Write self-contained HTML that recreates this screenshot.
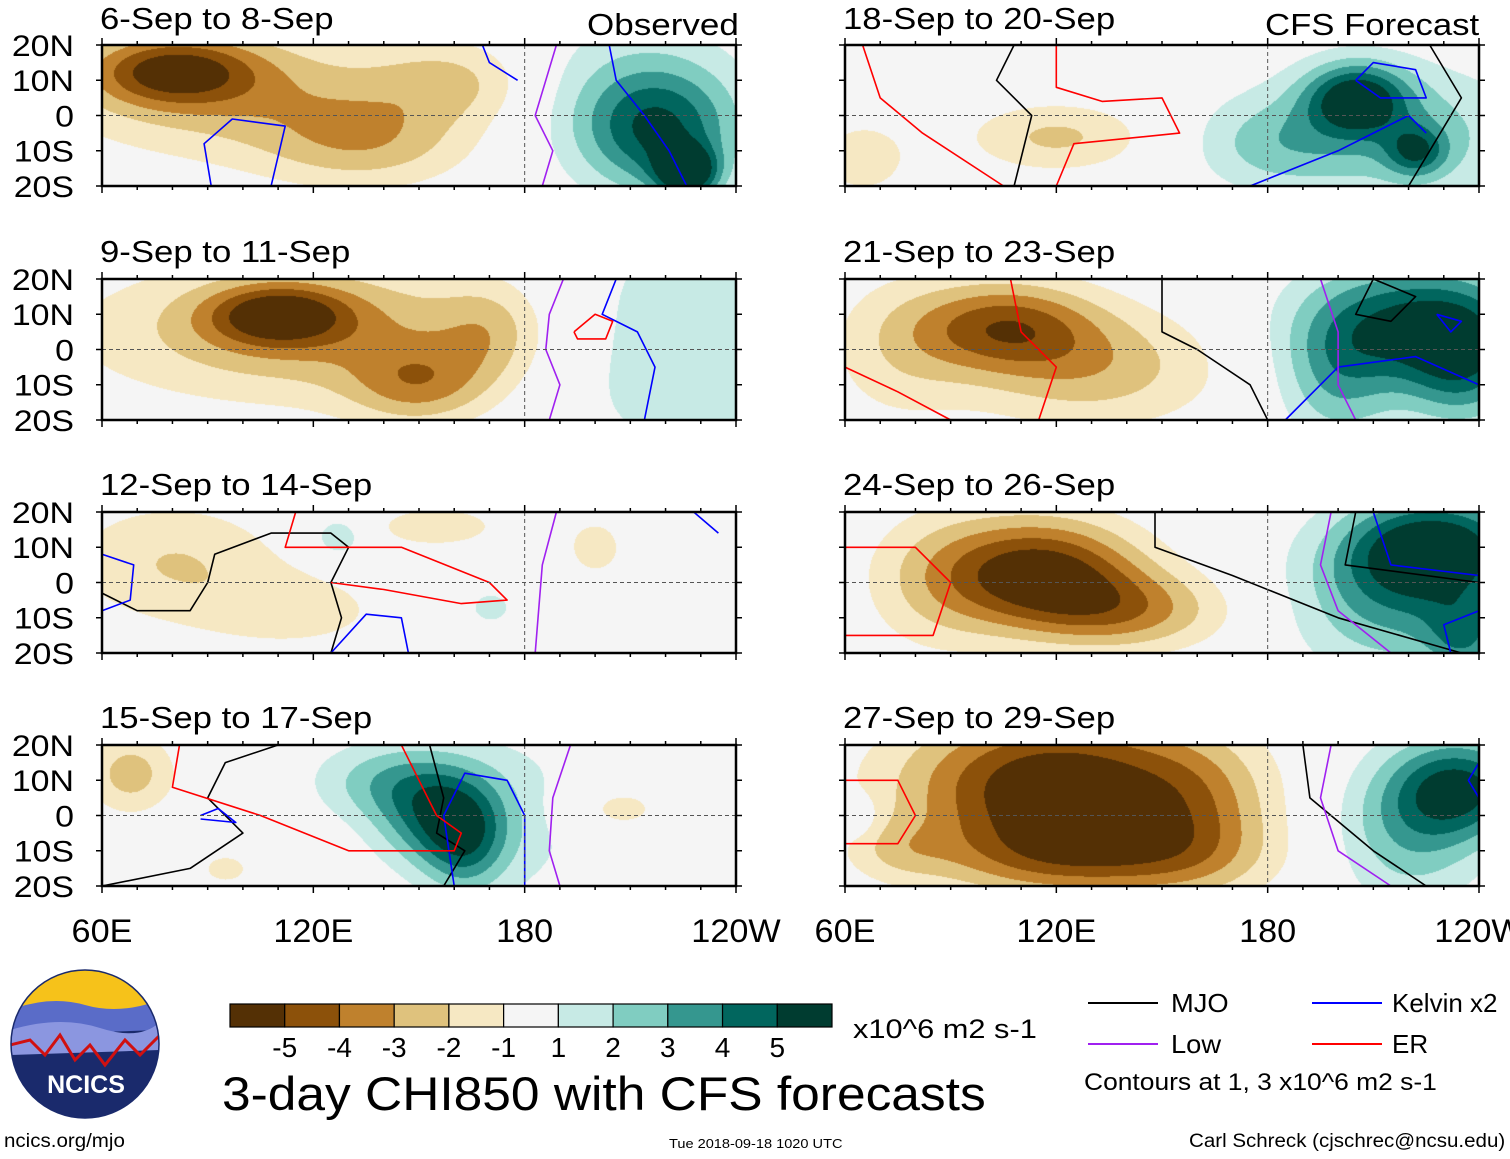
<!DOCTYPE html>
<html><head><meta charset="utf-8">
<style>
body{margin:0;width:1510px;height:1159px;background:#fff;font-family:"Liberation Sans",sans-serif;position:relative;overflow:hidden}
.t{position:absolute;white-space:nowrap;color:#000;transform-origin:0 0}
canvas{position:absolute}
svg{position:absolute;left:0;top:0}
</style></head><body>
<canvas id="cv" width="1510" height="1159" style="left:0;top:0"></canvas>
<svg id="sv" width="1510" height="1159"></svg>

<div class="t" style="left:100px;top:1px;font-size:31px;transform:scaleX(1.12)">6-Sep to 8-Sep</div>
<div class="t" style="left:587px;top:7px;font-size:31px;transform:scaleX(1.13)">Observed</div>
<div class="t" style="left:100px;top:234px;font-size:31px;transform:scaleX(1.12)">9-Sep to 11-Sep</div>
<div class="t" style="left:100px;top:467px;font-size:31px;transform:scaleX(1.12)">12-Sep to 14-Sep</div>
<div class="t" style="left:100px;top:700px;font-size:31px;transform:scaleX(1.12)">15-Sep to 17-Sep</div>
<div class="t" style="left:843px;top:1px;font-size:31px;transform:scaleX(1.12)">18-Sep to 20-Sep</div>
<div class="t" style="left:1265px;top:7px;font-size:31px;transform:scaleX(1.12)">CFS Forecast</div>
<div class="t" style="left:843px;top:234px;font-size:31px;transform:scaleX(1.12)">21-Sep to 23-Sep</div>
<div class="t" style="left:843px;top:467px;font-size:31px;transform:scaleX(1.12)">24-Sep to 26-Sep</div>
<div class="t" style="left:843px;top:700px;font-size:31px;transform:scaleX(1.12)">27-Sep to 29-Sep</div>

<div class="t" style="left:853px;top:1014px;font-size:27px;transform:scaleX(1.14)">x10^6 m2 s-1</div>
<div class="t" style="left:222px;top:1066px;font-size:47px;transform:scaleX(1.095)">3-day CHI850 with CFS forecasts</div>
<div class="t" style="left:4px;top:1131px;font-size:19px;transform:scaleX(1.08)">ncics.org/mjo</div>
<div class="t" style="left:669px;top:1136px;font-size:13px;transform:scaleX(1.12)">Tue 2018-09-18 1020 UTC</div>
<div class="t" style="left:1189px;top:1131px;font-size:19px;transform:scaleX(1.08)">Carl Schreck (cjschrec@ncsu.edu)</div>
<div class="t" style="left:1171px;top:988px;font-size:26px;transform:scaleX(1.05)">MJO</div>
<div class="t" style="left:1171px;top:1029px;font-size:26px;transform:scaleX(1.05)">Low</div>
<div class="t" style="left:1392px;top:988px;font-size:26px">Kelvin x2</div>
<div class="t" style="left:1392px;top:1029px;font-size:26px">ER</div>
<div class="t" style="left:1084px;top:1069px;font-size:24px;transform:scaleX(1.1)">Contours at 1, 3 x10^6 m2 s-1</div>

<script>
const levels=[-5,-4,-3,-2,-1,1,2,3,4,5];
const colors=["#543005","#8c510a","#bf812d","#dfc27d","#f6e8c3","#f5f5f5","#c7eae5","#80cdc1","#35978f","#01665e","#003c30"];
const lonTicks=[60,120,180,240];
const lonLabels=["60E","120E","180","120W"];
const latTicks=[20,10,0,-10,-20];
const latLabels=["20N","10N","0","10S","20S"];
// blobs: [lon, lat, amplitude, sigmaLon, sigmaLat]
const p1=[[80,13,-4.5,17,7],[105,5,-2.5,40,13],[135,-8,-2,20,9],[160,10,-1.6,15,8],[218,-5,3.8,15,12],[226,-16,5.5,6,5],[212,5,2,22,16]];
const p2=[[110,10,-4.2,14,6],[120,5,-3,45,14],[150,-10,-2.6,14,8],[170,5,-1.5,10,10],[222,2,1.8,28,25]];
const p3=[[80,6,-2,22,12],[155,16,-1.5,15,5],[127,13,2.2,5,4],[170,-7,1.2,8,6],[115,-8,-1.4,20,8],[200,10,-1.3,8,8]];
const p4=[[155,0,3.6,12,10],[140,10,2.2,15,8],[163,-8,2.6,8,10],[175,0,1.4,20,18],[68,12,-2.5,9,8],[205,2,-1.6,12,6],[95,-15,-1.2,8,5]];
const p5=[[120,-6,-2.2,18,7],[65,-12,-1.6,10,8],[205,5,4.8,10,7],[215,-5,2.6,28,14],[180,-8,1.6,15,9],[222,-10,3.2,6,5]];
const p6=[[105,7,-4,18,9],[130,-5,-2.6,25,12],[75,0,-1.5,15,15],[222,8,4.8,22,12],[200,-8,2.6,12,14],[235,-5,3.5,12,12]];
const p7=[[115,3,-5.6,20,11],[140,-8,-3,20,8],[85,0,-1.5,15,15],[228,10,5.6,18,10],[215,-5,3,20,15],[236,-15,3,8,8]];
const p8=[[120,8,-6.2,30,15],[130,-12,-3,30,8],[160,0,-2,15,15],[235,8,4.8,14,10],[220,-5,2.6,15,15],[63,0,1.3,4,4],[75,-10,-1.2,10,6]];
const fields=[p1,p2,p3,p4,p5,p6,p7,p8];
// contour lines: [type, [[lon,lat],...]]
const lines=[
 [["low",[[189,20],[186,10],[183,0],[188,-10],[185,-20]]],["kel",[[204,20],[206,10],[214,0],[221,-10],[226,-20]]],["kel",[[91,-20],[89,-8],[97,-1],[112,-3],[108,-20]]],["kel",[[168,20],[170,15],[178,10]]]],
 [["low",[[191,20],[187,10],[186,0],[190,-10],[187,-20]]],["kel",[[206,20],[202,10],[212,5],[217,-5],[214,-20]]],["er",[[194,5],[200,10],[205,8],[203,3],[195,3],[194,5]]]],
 [["mjo",[[60,-3],[70,-8],[85,-8],[90,0],[92,8],[108,14],[125,14],[130,10],[125,0],[128,-10],[125,-20]]],["kel",[[60,-8],[68,-5],[69,5],[60,8]]],["kel",[[125,-20],[135,-9],[145,-10],[147,-20]]],["er",[[115,20],[112,10],[145,10],[170,0],[175,-5],[162,-6],[140,-2],[125,0]]],["low",[[189,20],[185,5],[183,-20]]],["kel",[[228,20],[235,14]]]],
 [["mjo",[[60,-20],[85,-15],[100,-5],[90,5],[95,15],[110,20]]],["mjo",[[153,20],[157,5],[155,-5],[163,-10],[157,-20]]],["kel",[[160,-20],[157,0],[163,12],[175,10],[180,0],[180,-20]]],["er",[[82,20],[80,8],[105,0],[130,-10],[160,-10],[162,-5],[155,0],[150,10],[145,20]]],["kel",[[88,0],[93,2],[98,-2],[88,-1]]],["low",[[193,20],[188,5],[187,-10],[190,-20]]]],
 [["mjo",[[108,20],[103,10],[113,0],[108,-20]]],["er",[[65,20],[70,5],[82,-5],[105,-20]]],["er",[[120,20],[120,8],[133,4],[150,5],[155,-5],[125,-8],[120,-20]]],["kel",[[175,-20],[200,-10],[210,-5],[220,0],[225,-5]]],["kel",[[205,10],[210,15],[222,13],[225,5],[212,5],[205,10]]],["mjo",[[226,20],[235,5],[220,-20]]]],
 [["mjo",[[150,20],[150,5],[160,0],[175,-10],[180,-20]]],["er",[[60,-5],[75,-12],[90,-20]]],["er",[[107,20],[110,5],[120,-5],[115,-20]]],["mjo",[[210,20],[205,10],[215,8],[222,15],[210,20]]],["kel",[[185,-20],[200,-5],[222,-2],[240,-10]]],["kel",[[228,10],[235,8],[232,5],[228,10]]],["low",[[195,20],[200,5],[200,-10],[205,-20]]]],
 [["mjo",[[148,20],[148,10],[170,2],[200,-10],[235,-20]]],["er",[[60,10],[80,10],[90,0],[85,-15],[60,-15]]],["kel",[[210,20],[215,5],[240,2]]],["kel",[[240,-8],[230,-12],[232,-20]]],["low",[[198,20],[195,5],[200,-8],[215,-20]]],["mjo",[[205,20],[202,5],[240,0]]]],
 [["mjo",[[190,20],[192,5],[210,-10],[225,-20]]],["low",[[198,20],[195,5],[200,-10],[215,-20]]],["er",[[60,10],[75,10],[80,0],[75,-8],[60,-8]]],["kel",[[240,15],[237,10],[240,5]]]]
];
const LX=[102,845], TY=[45,279,512,745], W=634, H=141;
const lineCol={mjo:"#000",low:"#a020f0",kel:"#0000ff",er:"#ff0000"};

const cv=document.getElementById('cv'),ctx=cv.getContext('2d');
const rgb=colors.map(c=>[parseInt(c.slice(1,3),16),parseInt(c.slice(3,5),16),parseInt(c.slice(5,7),16)]);
function px(i,lon){return LX[i<4?0:1]+(lon-60)/180*W;}
function py(i,lat){return TY[i%4]+(20-lat)/40*H;}
function val(b,lon,lat){let s=0;for(const q of b){const dx=(lon-q[0])/q[3],dy=(lat-q[1])/q[4];s+=q[2]*Math.exp(-0.5*(dx*dx+dy*dy));}return s;}
function lvl(v){let k=0;while(k<levels.length&&v>=levels[k])k++;return k;}
fields.forEach((b,i)=>{
  const x0=LX[i<4?0:1],y0=TY[i%4];
  const img=ctx.createImageData(W,H);
  for(let y=0;y<H;y++)for(let x=0;x<W;x++){
    const lon=60+x/W*180,lat=20-y/H*40;const c=rgb[lvl(val(b,lon,lat))];
    const o=(y*W+x)*4;img.data[o]=c[0];img.data[o+1]=c[1];img.data[o+2]=c[2];img.data[o+3]=255;}
  ctx.putImageData(img,x0,y0);
});
const sv=document.getElementById('sv');const NS="http://www.w3.org/2000/svg";
function el(t,a,p){const e=document.createElementNS(NS,t);for(const k in a)e.setAttribute(k,a[k]);(p||sv).appendChild(e);return e;}
for(let i=0;i<8;i++){
  const x0=LX[i<4?0:1],y0=TY[i%4];
  const g=el('g',{});
  
  
  lines[i].forEach(L=>{
    const pts=L[1].map(p=>px(i,p[0]).toFixed(1)+','+py(i,p[1]).toFixed(1));
    let d="M"+pts[0];for(let k=1;k<pts.length;k++)d+=" L"+pts[k];
    const p=el('path',{d:d,fill:'none',stroke:lineCol[L[0]],'stroke-width':1.6,'stroke-linejoin':'round'},g);
    
    
  });
  el('line',{x1:x0,x2:x0+W,y1:py(i,0),y2:py(i,0),stroke:'#555','stroke-dasharray':'4,3','stroke-width':1},g);
  el('line',{x1:px(i,180),x2:px(i,180),y1:y0,y2:y0+H,stroke:'#555','stroke-dasharray':'4,3','stroke-width':1},g);
  const fr=el('rect',{x:x0,y:y0,width:W,height:H,fill:'none',stroke:'#000','stroke-width':2.5},g);
  
  
  for(let lon=60;lon<=240;lon+=10){const x=px(i,lon),len=(lon%60==0)?7:4;
    el('line',{x1:x,x2:x,y1:y0,y2:y0-len,stroke:'#000','stroke-width':1.5},g);
    el('line',{x1:x,x2:x,y1:y0+H,y2:y0+H+len,stroke:'#000','stroke-width':1.5},g);}
  latTicks.forEach((lat,k)=>{const y=py(i,lat);
    el('line',{x1:x0,x2:x0-6,y1:y,y2:y,stroke:'#000','stroke-width':1.5},g);
    el('line',{x1:x0+W,x2:x0+W+6,y1:y,y2:y,stroke:'#000','stroke-width':1.5},g);
    if(i<4){const t=el('text',{x:74,y:y+11,'font-size':30,'text-anchor':'end','font-family':'Liberation Sans',transform:'translate(74,0) scale(1.13,1) translate(-74,0)'},g);t.textContent=latLabels[k];
      
      }
  });
  if(i%4==3){lonTicks.forEach((lon,k)=>{const x=px(i,lon);const t=el('text',{x:x,y:942,'font-size':32,'text-anchor':'middle','font-family':'Liberation Sans',transform:'translate('+x+',0) scale(1.07,1) translate('+(-x)+',0)'},g);t.textContent=lonLabels[k];
    
    });}
}
const cb=el('g',{});


const bw=602/colors.length;
colors.forEach((c,k)=>{el('rect',{x:230+k*bw,y:1004,width:bw,height:23,fill:c,stroke:'#000','stroke-width':1.2},cb);});
levels.forEach((v,k)=>{const t=el('text',{x:230+(k+1)*bw,y:1057,'font-size':28,'text-anchor':'middle','font-family':'Liberation Sans'},cb);t.textContent=v;
  
  });
[["mjo",1088,1003],["low",1088,1044],["kel",1312,1003],["er",1312,1044]].forEach(a=>{
  const l=el('line',{x1:a[1],x2:a[1]+70,y1:a[2],y2:a[2],stroke:lineCol[a[0]],'stroke-width':2});
  
  });
const lg=el('g',{});


el('defs',{},lg).innerHTML='<clipPath id="cp"><circle cx="85" cy="1044" r="74"/></clipPath>';
const cg=el('g',{'clip-path':'url(#cp)'},lg);
el('rect',{x:10,y:970,width:150,height:150,fill:'#1a2a6c'},cg);
el('rect',{x:10,y:970,width:150,height:50,fill:'#f6c21a'},cg);
el('path',{d:'M10 1010 Q50 995 85 1005 T160 1000 L160 1030 L10 1035Z',fill:'#5a6cc8'},cg);
el('path',{d:'M10 1030 Q60 1015 100 1028 T160 1022 L160 1050 L10 1055Z',fill:'#8b96e0'},cg);
el('path',{d:'M10 1045 L30 1040 L45 1055 L60 1035 L75 1060 L90 1045 L105 1065 L125 1040 L140 1055 L160 1035',fill:'none',stroke:'#d01010','stroke-width':3},cg);
el('circle',{cx:85,cy:1044,r:74,fill:'none',stroke:'#1a2a6c','stroke-width':1.5},lg);
const nt=el('text',{x:86,y:1093,'font-size':25,'font-weight':'bold','text-anchor':'middle',fill:'#fff','font-family':'Liberation Sans'},lg);nt.textContent="NCICS";
</script>
</body></html>
